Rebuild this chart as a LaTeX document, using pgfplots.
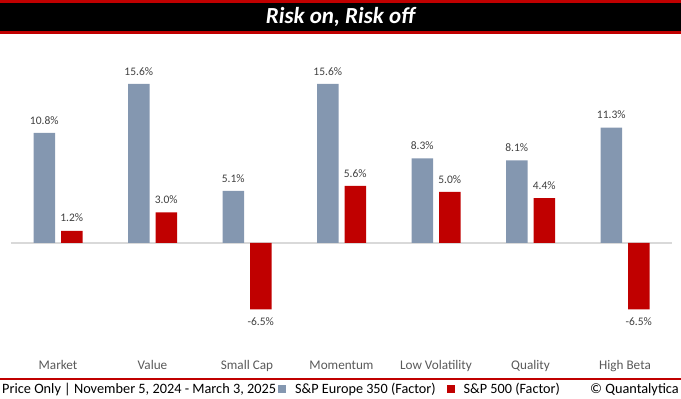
\documentclass[border=0pt]{standalone}
\usepackage{pgfplots}
\pgfplotsset{compat=1.18}
\usepackage{fontspec}
\setmainfont{Carlito}
\definecolor{bluegray}{HTML}{8497B0}
\definecolor{darkred}{HTML}{C00000}
\definecolor{zerogray}{HTML}{D9D9D9}
\definecolor{labelgray}{HTML}{595959}
\definecolor{valgray}{HTML}{404040}
\begin{document}
\begin{tikzpicture}[x=1pt,y=1pt]
\path[use as bounding box] (0,0) rectangle (681,399);
% header
\fill[darkred] (0,365) rectangle (681,399);
\fill[black] (0,368) rectangle (681,396);
\node[text=white, font=\fontsize{23}{26}\selectfont\bfseries\itshape] at (340.5,382) {Risk on, Risk off};
% footer
\fill[darkred] (0,19) rectangle (681,21);
\node[anchor=west, font=\fontsize{14.3}{16}\selectfont, inner sep=0] at (2,9.5) {Price Only | November 5, 2024 - March 3, 2025};
\node[anchor=east, font=\fontsize{14.3}{16}\selectfont, inner sep=0] at (679,9.5) {© Quantalytica};
\begin{axis}[
  at={(10.75pt,43.8pt)}, anchor=south west,
  x=94.5pt, y=10.2pt,
  xmin=-0.5, xmax=6.5, ymin=-11, ymax=17,
  clip=false,
  axis line style={draw=none},
  major tick length=0pt,
  ytick=\empty,
  xtick={0,1,2,3,4,5,6},
  xticklabels={Market,Value,Small Cap,Momentum,Low Volatility,Quality,High Beta},
  xticklabel style={font=\fontsize{13.2}{15}\selectfont, text=labelgray, yshift=-2pt},
  /pgf/number format/assume math mode=true,
  ybar=6pt, bar width=21.5pt,
  nodes near coords={\pgfmathprintnumber[fixed,fixed zerofill,precision=1]{\pgfplotspointmeta}\%},
  nodes near coords style={font=\fontsize{11.5}{13}\selectfont, text=valgray, inner ysep=8.5pt},
  legend style={draw=none, fill=none, at={(0.404,-0.1183)}, anchor=west, inner sep=0pt,
    font=\fontsize{14.2}{16}\selectfont,
    /tikz/every odd column/.append style={column sep=7pt},
    /tikz/every even column/.append style={column sep=9pt}},
  legend columns=2,
  legend image code/.code={\fill[#1] (0pt,-4pt) rectangle (8pt,4pt);},
]
\draw[zerogray, line width=1.2pt] (axis cs:-0.5,0) -- (axis cs:6.5,0);
\addplot[fill=bluegray, draw=none] coordinates {(0,10.8) (1,15.6) (2,5.1) (3,15.6) (4,8.3) (5,8.1) (6,11.3)};
\addplot[fill=darkred, draw=none] coordinates {(0,1.2) (1,3.0) (2,-6.5) (3,5.6) (4,5.0) (5,4.4) (6,-6.5)};
\legend{S\&P Europe 350 (Factor), S\&P 500 (Factor)}
\end{axis}
\end{tikzpicture}
\end{document}
